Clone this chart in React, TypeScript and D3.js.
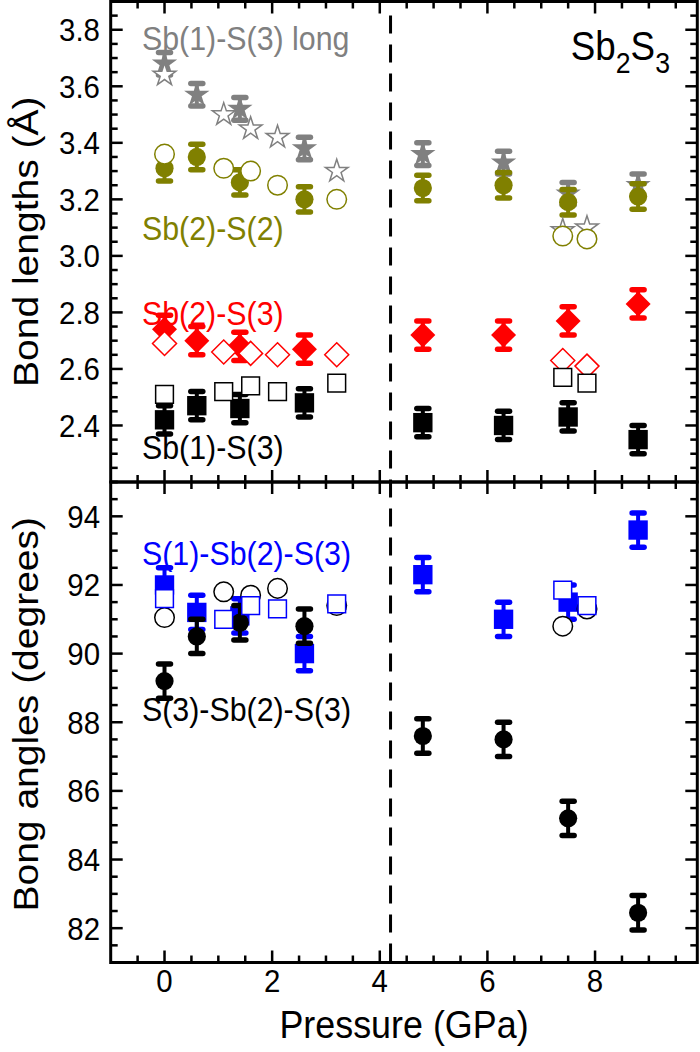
import React from 'react';
import * as d3 from 'd3';

// ---------- data ----------
const P_EXP = [0, 0.6, 1.4, 2.6, 4.8, 6.3, 7.5, 8.8];
const P_CALC = [0, 1.1, 1.6, 2.1, 3.2, 7.4, 7.85];

// bond lengths (Å)
const LONG_EXP = [3.68, 3.57, 3.52, 3.38, 3.36, 3.33, 3.22, 3.25];
const LONG_ERR = [0.04, 0.04, 0.04, 0.04, 0.04, 0.04, 0.04, 0.04];
const LONG_CALC = [3.64, 3.5, 3.45, 3.42, 3.3, 3.09, 3.1];

const S22_EXP = [3.31, 3.35, 3.26, 3.2, 3.24, 3.25, 3.19, 3.21];
const S22_ERR = [0.045, 0.045, 0.045, 0.045, 0.045, 0.045, 0.045, 0.045];
const S22_CALC = [3.36, 3.31, 3.3, 3.25, 3.2, 3.07, 3.06];

const S23_EXP = [2.74, 2.7, 2.68, 2.67, 2.72, 2.72, 2.77, 2.83];
const S23_ERR = [0.05, 0.05, 0.05, 0.05, 0.05, 0.05, 0.05, 0.05];
const S23_CALC = [2.69, 2.66, 2.655, 2.65, 2.65, 2.63, 2.61];

const S13_EXP = [2.42, 2.47, 2.46, 2.48, 2.41, 2.4, 2.43, 2.35];
const S13_ERR = [0.05, 0.05, 0.05, 0.05, 0.05, 0.05, 0.05, 0.05];
const S13_CALC = [2.51, 2.52, 2.54, 2.52, 2.55, 2.57, 2.55];

// bond angles (degrees)
const A1_EXP = [92.0, 91.2, 91.1, 90.0, 92.3, 91.0, 91.5, 93.6];
const A1_ERR = [0.5, 0.5, 0.5, 0.5, 0.5, 0.5, 0.5, 0.5];
const A1_CALC = [91.6, 91.0, 91.4, 91.3, 91.45, 91.85, 91.4];

const A2_EXP = [89.2, 90.5, 90.9, 90.8, 87.6, 87.5, 85.2, 82.45];
const A2_ERR = [0.5, 0.5, 0.5, 0.5, 0.5, 0.5, 0.5, 0.5];
const A2_CALC = [91.05, 91.8, 91.7, 91.9, 91.4, 90.8, 91.3];

const X_TICKS = [0, 2, 4, 6, 8];
const Y_TOP_TICKS = [2.4, 2.6, 2.8, 3.0, 3.2, 3.4, 3.6, 3.8];
const Y_BOT_TICKS = [82, 84, 86, 88, 90, 92, 94];
const TRANSITION_P = 4.2;

// ---------- layout ----------
const W = 700, H = 1052;
const X0 = 110.7, X1 = 697.3;
const TOP_Y0 = 1.5, MID_Y = 482, BOT_Y1 = 962.5;
const FONT = "'Liberation Sans', Arial, Helvetica, sans-serif";
const SQ = 0.92; // horizontal squeeze of the text

const x = d3.scaleLinear().domain([-1, 9.9]).range([X0, X1]);
const yTop = d3.scaleLinear().domain([2.2, 3.9]).range([MID_Y, TOP_Y0]);
const yBot = d3.scaleLinear().domain([81, 95]).range([BOT_Y1, MID_Y]);

const GRAY = '#808080', OLIVE = '#808000', RED = '#ff0000', BLACK = '#000000', BLUE = '#0000ff';

type Shape = 'star' | 'circle' | 'square' | 'diamond';

function shapePath(shape: Shape, filled: boolean): string {
  if (shape === 'star') return d3.symbol().type(d3.symbolStar).size(filled ? 200 : 160)()!;
  if (shape === 'circle') return d3.symbol().type(d3.symbolCircle).size(filled ? 260 : 300)()!;
  if (shape === 'square') return d3.symbol().type(d3.symbolSquare).size(filled ? 375 : 315)()!;
  const r = filled ? 12.5 : 12;
  return `M0,${-r}L${r},0L0,${r}L${-r},0Z`;
}

function range(a: number, b: number, step: number) {
  const out: number[] = [];
  for (let v = a; v <= b + 1e-9; v += step) out.push(Math.round(v * 1000) / 1000);
  return out;
}

function T({ x: tx, y: ty, anchor = 'start', children, ...rest }: any) {
  return (
    <text transform={`translate(${tx},${ty}) scale(${SQ},1)`} textAnchor={anchor} {...rest}>{children}</text>
  );
}

function ErrSeries({ xs, ys, errs, y, color, shape }: any) {
  return (
    <g>
      {xs.map((p: number, i: number) => {
        const cx = x(p);
        const t = y(ys[i] + errs[i]), b = y(ys[i] - errs[i]);
        return (
          <g key={'e' + i} stroke={color} strokeLinecap="round">
            <line x1={cx} x2={cx} y1={t} y2={b} strokeWidth={4} />
            <line x1={cx - 6} x2={cx + 6} y1={t} y2={t} strokeWidth={5.5} />
            <line x1={cx - 6} x2={cx + 6} y1={b} y2={b} strokeWidth={5.5} />
          </g>
        );
      })}
      {xs.map((p: number, i: number) => (
        <path key={'m' + i} d={shapePath(shape, true)} transform={`translate(${x(p)},${y(ys[i])})`} fill={color} />
      ))}
    </g>
  );
}

function OpenSeries({ xs, ys, y, color, shape }: any) {
  return (
    <g>
      {xs.map((p: number, i: number) => (
        <path key={i} d={shapePath(shape, false)} transform={`translate(${x(p)},${y(ys[i])})`}
          fill="#fff" stroke={color} strokeWidth={1.5} />
      ))}
    </g>
  );
}

function PanelFrame({ y, y0, y1, major, minor, showXLabels, labelFmt }: any) {
  const xMajor = X_TICKS;
  const xMinor = range(-0.5, 9.5, 0.5).filter((v) => !xMajor.includes(v));
  const ML = 12, mL = 7;
  const els: any[] = [];
  xMajor.forEach((v) => {
    els.push(<line key={'xb' + v} x1={x(v)} x2={x(v)} y1={y1} y2={y1 - ML} />);
    els.push(<line key={'xt' + v} x1={x(v)} x2={x(v)} y1={y0} y2={y0 + ML} />);
  });
  xMinor.forEach((v) => {
    els.push(<line key={'xbm' + v} x1={x(v)} x2={x(v)} y1={y1} y2={y1 - mL} />);
    els.push(<line key={'xtm' + v} x1={x(v)} x2={x(v)} y1={y0} y2={y0 + mL} />);
  });
  major.forEach((v: number) => {
    els.push(<line key={'yl' + v} x1={X0} x2={X0 + ML} y1={y(v)} y2={y(v)} />);
    els.push(<line key={'yr' + v} x1={X1} x2={X1 - ML} y1={y(v)} y2={y(v)} />);
  });
  minor.forEach((v: number) => {
    els.push(<line key={'ylm' + v} x1={X0} x2={X0 + mL} y1={y(v)} y2={y(v)} />);
    els.push(<line key={'yrm' + v} x1={X1} x2={X1 - mL} y1={y(v)} y2={y(v)} />);
  });
  return (
    <g>
      <g stroke="#000" strokeWidth={2.5}>{els}</g>
      <rect x={X0} y={y0} width={X1 - X0} height={y1 - y0} fill="none" stroke="#000" strokeWidth={3} />
      <g fontFamily={FONT} fontSize={32} fill="#000">
        {major.map((v: number) => (
          <T key={'lab' + v} x={100} y={y(v) + 11.5} anchor="end">{labelFmt(v)}</T>
        ))}
        {showXLabels && xMajor.map((v) => (
          <T key={'xl' + v} x={x(v)} y={y1 + 29} anchor="middle">{v}</T>
        ))}
      </g>
    </g>
  );
}

export default function App() {
  const topMajor = Y_TOP_TICKS;
  const topMinor = range(2.2, 3.9, 0.05).filter((v) => !topMajor.some((m) => Math.abs(m - v) < 1e-6));
  const botMajor = Y_BOT_TICKS;
  const botMinor = range(81, 95, 0.5).filter((v) => !botMajor.includes(v));

  return (
    <svg width={W} height={H} style={{ position: 'absolute', left: 0, top: 0, background: '#fff' }}>
      <rect width={W} height={H} fill="#fff" />
      <line x1={x(TRANSITION_P)} x2={x(TRANSITION_P)} y1={TOP_Y0 + 14} y2={BOT_Y1} stroke="#000" strokeWidth={3} strokeDasharray="18,11" />

      {/* top panel data */}
      <ErrSeries xs={P_EXP} ys={LONG_EXP} errs={LONG_ERR} y={yTop} color={GRAY} shape="star" />
      <ErrSeries xs={P_EXP} ys={S22_EXP} errs={S22_ERR} y={yTop} color={OLIVE} shape="circle" />
      <ErrSeries xs={P_EXP} ys={S23_EXP} errs={S23_ERR} y={yTop} color={RED} shape="diamond" />
      <ErrSeries xs={P_EXP} ys={S13_EXP} errs={S13_ERR} y={yTop} color={BLACK} shape="square" />
      <OpenSeries xs={P_CALC} ys={LONG_CALC} y={yTop} color={GRAY} shape="star" />
      <OpenSeries xs={P_CALC} ys={S22_CALC} y={yTop} color={OLIVE} shape="circle" />
      <OpenSeries xs={P_CALC} ys={S23_CALC} y={yTop} color={RED} shape="diamond" />
      <OpenSeries xs={P_CALC} ys={S13_CALC} y={yTop} color={BLACK} shape="square" />

      {/* bottom panel data */}
      <ErrSeries xs={P_EXP} ys={A1_EXP} errs={A1_ERR} y={yBot} color={BLUE} shape="square" />
      <ErrSeries xs={P_EXP} ys={A2_EXP} errs={A2_ERR} y={yBot} color={BLACK} shape="circle" />
      <OpenSeries xs={P_CALC} ys={A2_CALC} y={yBot} color={BLACK} shape="circle" />
      <OpenSeries xs={P_CALC} ys={A1_CALC} y={yBot} color={BLUE} shape="square" />

      <PanelFrame y={yTop} y0={TOP_Y0} y1={MID_Y} major={topMajor} minor={topMinor} showXLabels={false}
        labelFmt={(v: number) => v.toFixed(1)} />
      <PanelFrame y={yBot} y0={MID_Y} y1={BOT_Y1} major={botMajor} minor={botMinor} showXLabels={true}
        labelFmt={(v: number) => String(v)} />

      {/* annotations */}
      <g fontFamily={FONT} fontSize={33}>
        <T x={142} y={50} fill={GRAY}>Sb(1)-S(3) long</T>
        <T x={142} y={240} fill={OLIVE}>Sb(2)-S(2)</T>
        <T x={142} y={325} fill={RED}>Sb(2)-S(3)</T>
        <T x={142} y={459} fill={BLACK}>Sb(1)-S(3)</T>
        <T x={142} y={565} fill={BLUE}>S(1)-Sb(2)-S(3)</T>
        <T x={142} y={721} fill={BLACK}>S(3)-Sb(2)-S(3)</T>
      </g>
      <T x={670} y={60} anchor="end" fontFamily={FONT} fontSize={40} fill="#000">
        Sb<tspan fontSize={29} dy={13}>2</tspan><tspan dy={-13}>S</tspan><tspan fontSize={29} dy={13}>3</tspan>
      </T>

      {/* axis titles */}
      <g fontFamily={FONT} fontSize={39} fill="#000">
        <text transform={`translate(38,${(TOP_Y0 + MID_Y) / 2}) scale(${SQ},1) rotate(-90)`} textAnchor="middle">Bond lengths (Å)</text>
        <text transform={`translate(38,${(MID_Y + BOT_Y1) / 2 - 8}) scale(${SQ},1) rotate(-90)`} textAnchor="middle">Bong angles (degrees)</text>
        <T x={(X0 + X1) / 2} y={1038} anchor="middle">Pressure (GPa)</T>
      </g>
    </svg>
  );
}
